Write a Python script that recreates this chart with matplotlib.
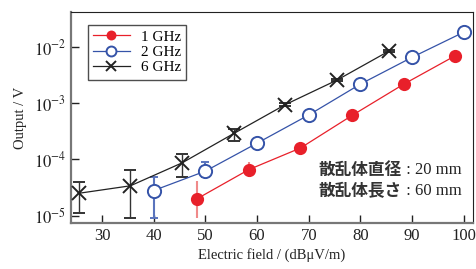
import matplotlib
matplotlib.use("Agg")
import matplotlib.pyplot as plt
import numpy as np

plt.rcParams['font.family'] = ['Liberation Serif', 'Noto Sans CJK JP']
plt.rcParams['mathtext.fontset'] = 'stix'

# 1 GHz
x1 = [48.4, 58.4, 68.4, 78.4, 88.4, 98.3]
y1 = [2.0e-5, 6.6e-5, 1.6e-4, 6.1e-4, 2.2e-3, 7.0e-3]
lo1 = [9e-6, 4.8e-5, 1.5e-4, 5.8e-4, 2.1e-3, 6.7e-3]
hi1 = [4.2e-5, 9.2e-5, 1.7e-4, 6.4e-4, 2.3e-3, 7.3e-3]

# 2 GHz
x2 = [40, 50, 60, 70, 80, 90, 100]
y2 = [2.8e-5, 6.2e-5, 1.95e-4, 6.2e-4, 2.2e-3, 6.6e-3, 1.85e-2]
lo2 = [9e-6, 4.8e-5, 1.7e-4, 5.6e-4, 2.0e-3, 6.1e-3, 1.75e-2]
hi2 = [4.8e-5, 8.9e-5, 2.2e-4, 6.8e-4, 2.4e-3, 7.1e-3, 1.95e-2]

# 6 GHz
x6 = [25.5, 35.5, 45.5, 55.5, 65.5, 75.5, 85.5]
y6 = [2.5e-5, 3.4e-5, 8.7e-5, 2.9e-4, 9.5e-4, 2.6e-3, 8.5e-3]
lo6 = [1.1e-5, 9e-6, 4.8e-5, 2.1e-4, 9.0e-4, 2.5e-3, 8.2e-3]
hi6 = [3.9e-5, 6.6e-5, 1.23e-4, 3.55e-4, 1.0e-3, 2.7e-3, 8.8e-3]

xticks = [30, 40, 50, 60, 70, 80, 90, 100]
yticks = [1e-5, 1e-4, 1e-3, 1e-2]
note_names = ['散乱体直径', '散乱体長さ']
note_values = [' : 20 mm', ' : 60 mm']

fig = plt.figure(figsize=(4.76, 2.69), dpi=100)
ax = fig.add_axes([0.149, 0.171, 0.844, 0.784])


def yerr(y, lo, hi):
    y = np.array(y)
    return [y - np.array(lo), np.array(hi) - y]


e6 = ax.errorbar(x6, y6, yerr=yerr(y6, lo6, hi6), color='#222222', lw=0.9,
                 marker='x', ms=9.5, mew=1.4, ecolor='#333333', elinewidth=1.0,
                 capsize=4, capthick=1.0, zorder=3)
e2 = ax.errorbar(x2, y2, yerr=yerr(y2, lo2, hi2), color='#3553a8', lw=0.9,
                 marker='o', ms=9.5, mfc='white', mew=1.4, ecolor='#5a74bd',
                 elinewidth=1.5, capsize=3, capthick=1.0, zorder=3)
e1 = ax.errorbar(x1, y1, yerr=yerr(y1, lo1, hi1), color='#e8202a', lw=0.9,
                 marker='o', ms=9.5, mew=0, ecolor='#f08a8a', elinewidth=1.5,
                 capsize=3, capthick=1.0, zorder=3)

ax.set_yscale('log')
ax.set_xlim(24, 101.7)
ax.set_ylim(7.4e-6, 4.2e-2)
ax.set_xticks(xticks)
ax.set_yticks(yticks)
ax.set_yticklabels(['$10^{-5}$', '$10^{-4}$', '$10^{-3}$', '$10^{-2}$'])
ax.yaxis.set_minor_locator(matplotlib.ticker.NullLocator())
ax.tick_params(direction='in', length=6, width=1, labelsize=12, colors='#222222')

for s in ['left', 'bottom']:
    ax.spines[s].set_color('#777777')
    ax.spines[s].set_linewidth(1.6)
for s in ['top', 'right']:
    ax.spines[s].set_color('#222222')
    ax.spines[s].set_linewidth(0.8)

ax.set_xlabel('Electric field / (dBμV/m)', fontsize=10.5, color='#222222', labelpad=3)
ax.set_ylabel('Output / V', fontsize=10.5, color='#222222', labelpad=5)

leg = ax.legend([e1[0], e2[0], e6[0]], ['1 GHz', '2 GHz', '6 GHz'],
                loc='upper left', bbox_to_anchor=(0.042, 0.94),
                fontsize=11, frameon=True, fancybox=False, edgecolor='#222222',
                borderpad=0.35, labelspacing=0.1, handlelength=2.4,
                handletextpad=0.7, borderaxespad=0, markerscale=0.75)
leg.get_frame().set_linewidth(1.0)

for name, val, yy in zip(note_names, note_values, [0.251, 0.152]):
    ax.text(0.824, yy, name, transform=ax.transAxes, ha='right', va='center',
            fontsize=12, fontweight='bold', color='#333333',
            family='Noto Sans CJK JP')
    ax.text(0.824, yy, val, transform=ax.transAxes, ha='left', va='center',
            fontsize=12, color='#222222')

fig.savefig('out.png', dpi=100)
